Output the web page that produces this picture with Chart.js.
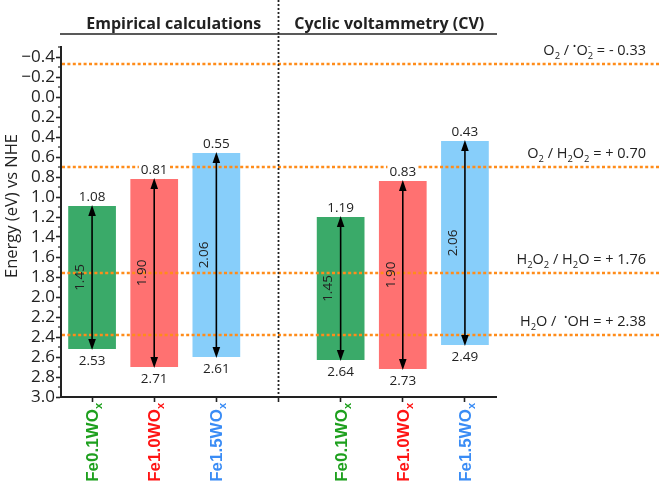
<!DOCTYPE html>
<html>
<head>
<meta charset="utf-8">
<script src="https://cdn.jsdelivr.net/npm/chart.js@4.4.1/dist/chart.umd.min.js"></script>
<style>
  html, body { margin: 0; padding: 0; background: #fff; }
  #wrap { width: 661px; height: 487px; }
</style>
</head>
<body>
<div id="wrap"><canvas id="bandChart"></canvas></div>
<script>
// --- data ---
const samples = ['Fe0.1WO', 'Fe1.0WO', 'Fe1.5WO'];
const sampleColors = ['#1ea01e', '#ff1414', '#3a8cf5'];
const barColors = ['#3aaa69', '#ff7171', '#87cefa'];
const groups = ['Empirical calculations', 'Cyclic voltammetry (CV)'];
const empiricalCB = [1.08, 0.81, 0.55];
const empiricalVB = [2.53, 2.71, 2.61];
const cvCB = [1.19, 0.83, 0.43];
const cvVB = [2.64, 2.73, 2.49];
// "_" subscript, "^" superscript, "`" superscript stacked over previous char
const couples = ['O_2 / ^•O_2`-', 'O_2 / H_2O_2', 'H_2O_2 / H_2O', 'H_2O /  ^•OH'];
const potentials = [-0.33, 0.70, 1.76, 2.38];
const yTicks = [-0.4, -0.2, 0.0, 0.2, 0.4, 0.6, 0.8, 1.0, 1.2, 1.4, 1.6, 1.8, 2.0, 2.2, 2.4, 2.6, 2.8, 3.0];
const yMinor = [-0.5, -0.3, -0.1, 0.1, 0.3, 0.5, 0.7, 0.9, 1.1, 1.3, 1.5, 1.7, 1.9, 2.1, 2.3, 2.5, 2.7, 2.9];

const FONT = "'Open Sans', sans-serif";
const INK = '#222';
const ORANGE = '#ff8c1a';

const labels = [...samples, '', ...samples];
const bars = [
    ...empiricalCB.map((cb, i) => [cb, empiricalVB[i]]),
    null,
    ...cvCB.map((cb, i) => [cb, cvVB[i]])
];
const colors = [...barColors, 'rgba(0,0,0,0)', ...barColors];
const nameColors = [...sampleColors, INK, ...sampleColors];

// draws text with sub/superscripts, right aligned at xRight
function drawRich(ctx, str, xRight, y, size) {
    const parts = [];
    for (let i = 0; i < str.length; i++) {
        let c = str[i], mode = 'n';
        if (c === '_') { mode = 'sub'; c = str[++i]; }
        else if (c === '^') { mode = 'sup'; c = str[++i]; }
        else if (c === '`') { mode = 'stack'; c = str[++i]; }
        parts.push({ c, mode });
    }
    const small = size * 0.65;
    let total = 0;
    parts.forEach(p => {
        ctx.font = `${p.mode === 'n' ? size : small}px ${FONT}`;
        p.w = ctx.measureText(p.c).width;
        if (p.mode !== 'stack') total += p.w;
    });
    let x = xRight - total, lastX = x;
    ctx.textAlign = 'left';
    ctx.textBaseline = 'alphabetic';
    parts.forEach(p => {
        ctx.font = `${p.mode === 'n' ? size : small}px ${FONT}`;
        let dy = 0;
        if (p.mode === 'sub') dy = size * 0.28;
        if (p.mode === 'sup' || p.mode === 'stack') dy = -size * 0.42;
        if (p.mode === 'stack') {
            ctx.fillText(p.c, lastX, y + dy);
        } else {
            ctx.fillText(p.c, x, y + dy);
            lastX = x;
            x += p.w;
        }
    });
}

function dotted(ctx, x1, y1, x2, y2, color, width, dash) {
    ctx.save();
    ctx.strokeStyle = color;
    ctx.lineWidth = width;
    ctx.setLineDash(dash);
    ctx.beginPath();
    ctx.moveTo(x1, y1);
    ctx.lineTo(x2, y2);
    ctx.stroke();
    ctx.restore();
}

const decorations = {
    id: 'decorations',
    afterDraw(chart) {
        const { ctx, chartArea, scales } = chart;
        const xs = scales.x, ys = scales.y;
        const W = chart.width;

        // minor ticks on the energy axis
        ctx.save();
        ctx.strokeStyle = INK;
        ctx.lineWidth = 1.2;
        yMinor.forEach(v => {
            const py = ys.getPixelForValue(v);
            ctx.beginPath();
            ctx.moveTo(chartArea.left - 3, py);
            ctx.lineTo(chartArea.left, py);
            ctx.stroke();
        });
        ctx.restore();

        // redox levels
        potentials.forEach(v => {
            const py = ys.getPixelForValue(v);
            dotted(ctx, chartArea.left + 1, py, W, py, ORANGE, 2.6, [3, 2.4]);
        });

        // divider between the two methods
        const xd = xs.getPixelForValue(3);
        dotted(ctx, xd, 0, xd, chartArea.bottom, INK, 1.8, [2, 2]);

        // header
        ctx.save();
        ctx.fillStyle = INK;
        ctx.font = `bold 16px ${FONT}`;
        ctx.textAlign = 'center';
        ctx.textBaseline = 'alphabetic';
        ctx.fillText(groups[0], (chartArea.left + xd) / 2 + 4, 29);
        ctx.fillText(groups[1], (xd + chartArea.right) / 2 + 2, 29);
        ctx.strokeStyle = INK;
        ctx.lineWidth = 1.6;
        ctx.beginPath();
        ctx.moveTo(chartArea.left - 1, 34);
        ctx.lineTo(chartArea.right + 1, 34);
        ctx.stroke();
        ctx.restore();

        // arrows and band-edge labels
        const meta = chart.getDatasetMeta(0);
        bars.forEach((b, i) => {
            if (!b) return;
            const cx = meta.data[i].x;
            const yt = ys.getPixelForValue(b[0]);
            const yb = ys.getPixelForValue(b[1]);

            ctx.save();
            ctx.font = `13.5px ${FONT}`;
            ctx.textAlign = 'center';
            ctx.textBaseline = 'alphabetic';
            const t1 = b[0].toFixed(2), t2 = b[1].toFixed(2);
            const w1 = ctx.measureText(t1).width;
            ctx.fillStyle = '#fff';
            ctx.fillRect(cx - w1 / 2 - 2, yt - 16, w1 + 4, 14);
            ctx.fillStyle = INK;
            ctx.fillText(t1, cx, yt - 4);
            ctx.fillText(t2, cx, yb + 15);

            // arrow
            ctx.strokeStyle = '#000';
            ctx.fillStyle = '#000';
            ctx.lineWidth = 1.6;
            ctx.beginPath();
            ctx.moveTo(cx, yt + 8);
            ctx.lineTo(cx, yb - 8);
            ctx.stroke();
            [[yt, 1], [yb, -1]].forEach(([tip, dir]) => {
                ctx.beginPath();
                ctx.moveTo(cx, tip);
                ctx.lineTo(cx - 3.8, tip + dir * 11);
                ctx.lineTo(cx + 3.8, tip + dir * 11);
                ctx.closePath();
                ctx.fill();
            });

            // band gap label
            ctx.translate(cx - 12, (yt + yb) / 2);
            ctx.rotate(-Math.PI / 2);
            ctx.fillStyle = INK;
            ctx.textBaseline = 'middle';
            ctx.fillText((b[1] - b[0]).toFixed(2), 0, 0);
            ctx.restore();
        });

        // redox couple labels
        ctx.save();
        ctx.fillStyle = INK;
        potentials.forEach((v, i) => {
            const py = ys.getPixelForValue(v);
            const val = (v < 0 ? '- ' : '+ ') + Math.abs(v).toFixed(2);
            drawRich(ctx, couples[i] + ' = ' + val, W - 15, py - 9, 14.5);
        });
        ctx.restore();

        // sample names under the axis
        labels.forEach((name, i) => {
            if (!name) return;
            const cx = xs.getPixelForValue(i);
            ctx.save();
            ctx.font = `bold 17px 'Liberation Sans', Arial, sans-serif`;
            const wMain = ctx.measureText(name).width;
            ctx.font = `bold 11px 'Liberation Sans', Arial, sans-serif`;
            const wSub = ctx.measureText('x').width;
            ctx.translate(cx, chartArea.bottom + 6 + wMain + wSub);
            ctx.rotate(-Math.PI / 2);
            ctx.fillStyle = nameColors[i];
            ctx.textAlign = 'left';
            ctx.textBaseline = 'alphabetic';
            ctx.font = `bold 17px 'Liberation Sans', Arial, sans-serif`;
            ctx.fillText(name, 0, 6);
            ctx.font = `bold 11px 'Liberation Sans', Arial, sans-serif`;
            ctx.fillText('x', wMain, 10);
            ctx.restore();
        });

        // axis title
        ctx.save();
        ctx.translate(12, (chartArea.top + chartArea.bottom) / 2 - 16);
        ctx.rotate(-Math.PI / 2);
        ctx.fillStyle = INK;
        ctx.font = `16.5px ${FONT}`;
        ctx.textAlign = 'center';
        ctx.textBaseline = 'middle';
        ctx.fillText('Energy (eV) vs NHE', 0, 0);
        ctx.restore();
    }
};

new Chart(document.getElementById('bandChart'), {
    type: 'bar',
    data: {
        labels: labels,
        datasets: [{
            data: bars,
            backgroundColor: colors,
            borderColor: 'rgba(255,255,255,0.35)',
            borderWidth: 1,
            borderSkipped: false,
            barPercentage: 1,
            categoryPercentage: 0.8
        }]
    },
    options: {
        responsive: true,
        maintainAspectRatio: false,
        animation: false,
        layout: { padding: { top: 47, right: 165, left: 0, bottom: 0 } },
        plugins: {
            legend: { display: false },
            tooltip: { enabled: false }
        },
        scales: {
            x: {
                offset: true,
                grid: { offset: false, drawOnChartArea: false, drawTicks: true, tickLength: 5, tickWidth: 1.6, color: INK },
                border: { display: true, color: INK, width: 2 },
                ticks: { display: false },
                afterFit(s) { s.height = 90; }
            },
            y: {
                reverse: true,
                min: -0.5,
                max: 3.0,
                afterBuildTicks(s) { s.ticks = yTicks.map(v => ({ value: v })); },
                grid: { drawOnChartArea: false, drawTicks: true, tickLength: 5, tickWidth: 1.6, color: INK },
                border: { display: true, color: INK, width: 2 },
                ticks: {
                    color: INK,
                    padding: 1,
                    autoSkip: false,
                    font: { family: FONT, size: 17 },
                    callback: v => (v < 0 ? '\u2212' : '') + Math.abs(v).toFixed(1)
                },
                afterFit(s) { s.width = 61; }
            }
        }
    },
    plugins: [decorations]
});
</script>
</body>
</html>
